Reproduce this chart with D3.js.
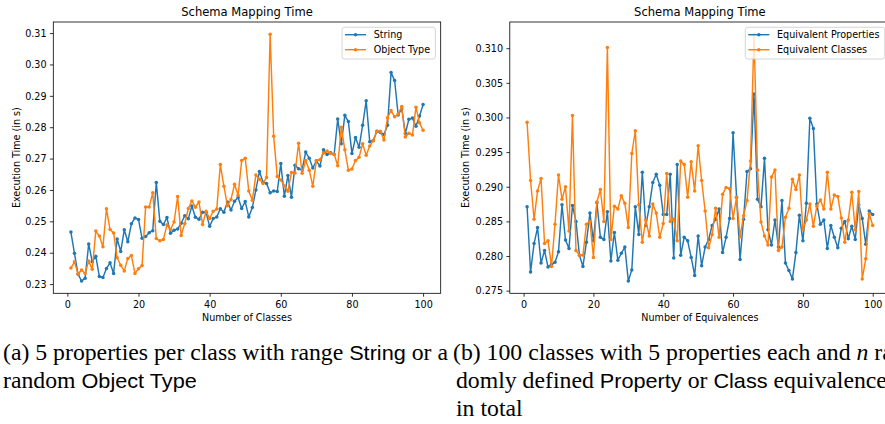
<!DOCTYPE html>
<html><head><meta charset="utf-8">
<script src="https://cdn.jsdelivr.net/npm/d3@7"></script>
<style>body{margin:0;background:#fff;overflow:hidden;} svg{display:block;}</style>
</head><body>
<svg id="c" width="885" height="424"></svg>
<script>
// ---------------- data ----------------
const xValues = d3.range(1, 101);

const stringTimes = [0.2466,0.2398,0.2332,0.2310,0.2319,0.2428,0.2371,0.2389,0.2324,0.2321,
0.2350,0.2368,0.2334,0.2444,0.2404,0.2473,0.2435,0.2492,0.2511,0.2506,
0.2446,0.2452,0.2464,0.2470,0.2624,0.2500,0.2490,0.2512,0.2462,0.2472,
0.2476,0.2494,0.2518,0.2508,0.2549,0.2513,0.2507,0.2529,0.2528,0.2484,
0.2509,0.2514,0.2540,0.2529,0.2562,0.2536,0.2564,0.2576,0.2541,0.2563,
0.2514,0.2544,0.2600,0.2659,0.2625,0.2621,0.2591,0.2597,0.2595,0.2684,
0.2580,0.2646,0.2577,0.2679,0.2668,0.2664,0.2721,0.2701,0.2670,0.2693,
0.2676,0.2728,0.2713,0.2719,0.2713,0.2826,0.2747,0.2838,0.2818,0.2716,
0.2767,0.2736,0.2806,0.2884,0.2754,0.2758,0.2787,0.2783,0.2777,0.2806,
0.2974,0.2949,0.2839,0.2859,0.2780,0.2825,0.2829,0.2803,0.2836,0.2872];

const objectTypeTimes = [0.2351,0.2371,0.2332,0.2345,0.2334,0.2374,0.2347,0.2469,0.2453,0.2419,
0.2540,0.2474,0.2463,0.2384,0.2360,0.2342,0.2382,0.2391,0.2334,0.2349,
0.2359,0.2546,0.2546,0.2591,0.2445,0.2438,0.2442,0.2489,0.2474,0.2498,
0.2579,0.2455,0.2493,0.2541,0.2565,0.2545,0.2562,0.2490,0.2532,0.2509,
0.2532,0.2539,0.2681,0.2612,0.2550,0.2570,0.2618,0.2583,0.2694,0.2701,
0.2597,0.2567,0.2648,0.2634,0.2621,0.2640,0.3096,0.2771,0.2643,0.2632,
0.2613,0.2596,0.2656,0.2654,0.2749,0.2653,0.2694,0.2663,0.2612,0.2693,
0.2696,0.2718,0.2724,0.2716,0.2714,0.2677,0.2800,0.2728,0.2663,0.2667,
0.2694,0.2704,0.2747,0.2711,0.2740,0.2757,0.2787,0.2787,0.2759,0.2830,
0.2853,0.2833,0.2842,0.2866,0.2769,0.2781,0.2775,0.2864,0.2814,0.2790];

const eqPropertyTimes = [0.2871,0.2777,0.2818,0.2841,0.2790,0.2808,0.2784,0.2788,0.2791,0.2806,
0.2874,0.2823,0.2811,0.2873,0.2850,0.2801,0.2785,0.2820,0.2862,0.2822,
0.2877,0.2827,0.2824,0.2864,0.2793,0.2834,0.2794,0.2804,0.2813,0.2764,
0.2780,0.2871,0.2831,0.2921,0.2844,0.2871,0.2906,0.2918,0.2902,0.2860,
0.2860,0.2918,0.2797,0.2932,0.2801,0.2827,0.2822,0.2798,0.2772,0.2829,
0.2786,0.2813,0.2824,0.2844,0.2853,0.2868,0.2805,0.2827,0.2854,0.2978,
0.2885,0.2795,0.2853,0.2922,0.2926,0.3034,0.2882,0.2871,0.2941,0.2838,
0.2816,0.2852,0.2813,0.2880,0.2790,0.2779,0.2767,0.2805,0.2859,0.2822,
0.2876,0.2999,0.2984,0.2875,0.2846,0.2852,0.2811,0.2844,0.2827,0.2812,
0.2840,0.2850,0.2825,0.2843,0.2824,0.2874,0.2854,0.2817,0.2865,0.2860];

const eqClassTimes = [0.2993,0.2909,0.2853,0.2894,0.2912,0.2818,0.2822,0.2785,0.2846,0.2917,
0.2882,0.2900,0.2836,0.3003,0.2808,0.2801,0.2801,0.2846,0.2850,0.2798,
0.2878,0.2896,0.2850,0.3101,0.2824,0.2872,0.2868,0.2887,0.2876,0.2841,
0.2948,0.2981,0.2874,0.2820,0.2852,0.2829,0.2875,0.2862,0.2827,0.2847,
0.2919,0.2850,0.2853,0.2822,0.2937,0.2932,0.2885,0.2936,0.2894,0.2959,
0.2909,0.2865,0.2812,0.2831,0.2869,0.2827,0.2889,0.2899,0.2897,0.2854,
0.2885,0.2828,0.2858,0.2880,0.2937,0.3120,0.2924,0.2849,0.2829,0.2816,
0.2914,0.2924,0.2808,0.2813,0.2856,0.2869,0.2911,0.2896,0.2917,0.2838,
0.2852,0.2875,0.2843,0.2872,0.2881,0.2868,0.2921,0.2868,0.2888,0.2886,
0.2855,0.2820,0.2852,0.2892,0.2838,0.2893,0.2767,0.2796,0.2861,0.2844];

const xTicks = [0, 20, 40, 60, 80, 100];
const yTicksA = [0.23, 0.24, 0.25, 0.26, 0.27, 0.28, 0.29, 0.30, 0.31];
const yTicksB = [0.275, 0.280, 0.285, 0.290, 0.295, 0.300, 0.305, 0.310];
const chartTitle = "Schema Mapping Time";
const yAxisTitle = "Execution Time (in s)";
const xAxisTitleA = "Number of Classes";
const xAxisTitleB = "Number of Equivalences";
const seriesNamesA = ["String", "Object Type"];
const seriesNamesB = ["Equivalent Properties", "Equivalent Classes"];
const colors = ["#1f77b4", "#ff7f0e"];

// ---------------- drawing ----------------
const svg = d3.select("#c");
svg.append("rect").attr("width", 885).attr("height", 424).attr("fill", "#fff");
const FONT = "'DejaVu Sans', sans-serif";

function panel(cfg) {
  const g = svg.append("g");
  const all = cfg.series.flatMap(s => s.values);
  const [mn, mx] = d3.extent(all);
  const pad = (mx - mn) * 0.05;
  const xPad = (100 - 1) * 0.05;
  const x = d3.scaleLinear().domain([1 - xPad, 100 + xPad]).range([cfg.left, cfg.right]);
  const y = d3.scaleLinear().domain([mn - pad, mx + pad]).range([cfg.bottom, cfg.top]);

  // axes
  const xAxis = d3.axisBottom(x).tickValues(xTicks).tickSize(3.4).tickPadding(3.4).tickFormat(d3.format("d"));
  const yAxis = d3.axisLeft(y).tickValues(cfg.yTicks).tickSize(3.4).tickPadding(3.4).tickFormat(d3.format(cfg.yFmt));
  const gx = g.append("g").attr("transform", `translate(0,${cfg.bottom})`).call(xAxis);
  const gy = g.append("g").attr("transform", `translate(${cfg.left},0)`).call(yAxis);
  [gx, gy].forEach(a => {
    a.select(".domain").remove();
    a.selectAll(".tick line").attr("stroke", "#000").attr("stroke-width", 0.8);
    a.selectAll(".tick text").attr("fill", "#000").style("font-family", FONT).style("font-size", "9.6px");
  });
  gx.selectAll(".tick text").attr("dy", null).attr("y", 0).attr("dominant-baseline", null)
    .attr("transform", "translate(0,14.6)");
  gy.selectAll(".tick text").attr("dy", "0.34em");

  // lines and markers
  const line = d3.line().x((d, i) => x(xValues[i])).y(d => y(d));
  cfg.series.forEach((s, k) => {
    g.append("path").datum(s.values).attr("d", line)
      .attr("fill", "none").attr("stroke", colors[k]).attr("stroke-width", 1.45)
      .attr("stroke-linejoin", "round").attr("stroke-linecap", "square");
    g.append("g").selectAll("circle").data(s.values).join("circle")
      .attr("cx", (d, i) => x(xValues[i])).attr("cy", d => y(d)).attr("r", 1.75)
      .attr("fill", colors[k]);
  });

  // frame
  g.append("rect").attr("x", cfg.left).attr("y", cfg.top)
    .attr("width", cfg.right - cfg.left).attr("height", cfg.bottom - cfg.top)
    .attr("fill", "none").attr("stroke", "#000").attr("stroke-width", 0.8);

  // titles
  g.append("text").attr("x", (cfg.left + cfg.right) / 2).attr("y", 15.8)
    .attr("text-anchor", "middle").style("font-family", FONT).style("font-size", "11.55px")
    .attr("fill", "#000").text(chartTitle);
  g.append("text").attr("x", (cfg.left + cfg.right) / 2).attr("y", 320.6)
    .attr("text-anchor", "middle").style("font-family", FONT).style("font-size", "9.6px")
    .attr("fill", "#000").text(cfg.xTitle);
  g.append("text").attr("transform", `translate(${cfg.yTitleX},${(cfg.top + cfg.bottom) / 2}) rotate(-90)`)
    .attr("text-anchor", "middle").style("font-family", FONT).style("font-size", "9.6px")
    .attr("fill", "#000").text(yAxisTitle);

  // legend
  const lg = g.append("g");
  const rowY = [cfg.top + 12.7, cfg.top + 27.7];
  const texts = cfg.series.map((s, k) => lg.append("text").attr("y", rowY[k] + 3.4)
    .style("font-family", FONT).style("font-size", "9.6px").attr("fill", "#000").text(s.name));
  const tw = d3.max(texts.map(t => t.node().getComputedTextLength()));
  const boxW = 3.0 + 21 + 7.7 + tw + 5.3;
  const boxR = cfg.right - 5.3;
  const boxL = boxR - boxW;
  lg.insert("rect", "text").attr("x", boxL).attr("y", cfg.top + 5.3).attr("width", boxW).attr("height", 31.7)
    .attr("rx", 2.5).attr("fill", "#fff").attr("fill-opacity", 0.8)
    .attr("stroke", "#cccccc").attr("stroke-width", 0.8);
  cfg.series.forEach((s, k) => {
    const x0 = boxL + 3.0, x1 = x0 + 21;
    lg.append("line").attr("x1", x0).attr("x2", x1).attr("y1", rowY[k]).attr("y2", rowY[k])
      .attr("stroke", colors[k]).attr("stroke-width", 1.45);
    lg.append("circle").attr("cx", (x0 + x1) / 2).attr("cy", rowY[k]).attr("r", 1.75).attr("fill", colors[k]);
    texts[k].attr("x", x1 + 7.7);
  });
}

panel({
  left: 53.3, right: 440.7, top: 22, bottom: 293.3, yTitleX: 19.5,
  yTicks: yTicksA, yFmt: ".2f", xTitle: xAxisTitleA,
  series: [{name: seriesNamesA[0], values: stringTimes}, {name: seriesNamesA[1], values: objectTypeTimes}]
});
panel({
  left: 509.8, right: 890, top: 22, bottom: 293.3, yTitleX: 469,
  yTicks: yTicksB, yFmt: ".3f", xTitle: xAxisTitleB,
  series: [{name: seriesNamesB[0], values: eqPropertyTimes}, {name: seriesNamesB[1], values: eqClassTimes}]
});

// ---------------- captions ----------------
const SERIF = "'Liberation Serif', 'Times New Roman', serif";
const SANS = "'Liberation Sans', Arial, sans-serif";
const captionLines = [
  {x: 3, y: 360, parts: [["(a) 5 properties per class with range ", SERIF], ["String", SANS], [" or a", SERIF]], target: 445},
  {x: 3, y: 388, parts: [["random ", SERIF], ["Object Type", SANS]]},
  {x: 453, y: 360, parts: [["(b) 100 classes with 5 properties each and ", SERIF], ["n", SERIF, "italic"], [" ran-", SERIF]]},
  {x: 456, y: 388, parts: [["domly defined ", SERIF], ["Property", SANS], [" or ", SERIF], ["Class", SANS], [" equivalences", SERIF]]},
  {x: 456, y: 416, parts: [["in total", SERIF]]}
];
const capTexts = captionLines.map(c => {
  const t = svg.append("text").attr("x", c.x).attr("y", c.y).attr("fill", "#000")
    .attr("xml:space", "preserve").style("white-space", "pre");
  c.parts.forEach(p => t.append("tspan").style("font-family", p[1])
    .style("font-size", p[1] === SANS ? "21px" : "23px")
    .style("font-style", p[2] || "normal").text(p[0]));
  return t;
});
const nat0 = capTexts[0].node().getComputedTextLength();
const factor = captionLines[0].target / nat0;
capTexts.forEach(t => {
  const w = t.node().getComputedTextLength();
  t.attr("textLength", w * factor).attr("lengthAdjust", "spacingAndGlyphs");
});
</script>
</body></html>
